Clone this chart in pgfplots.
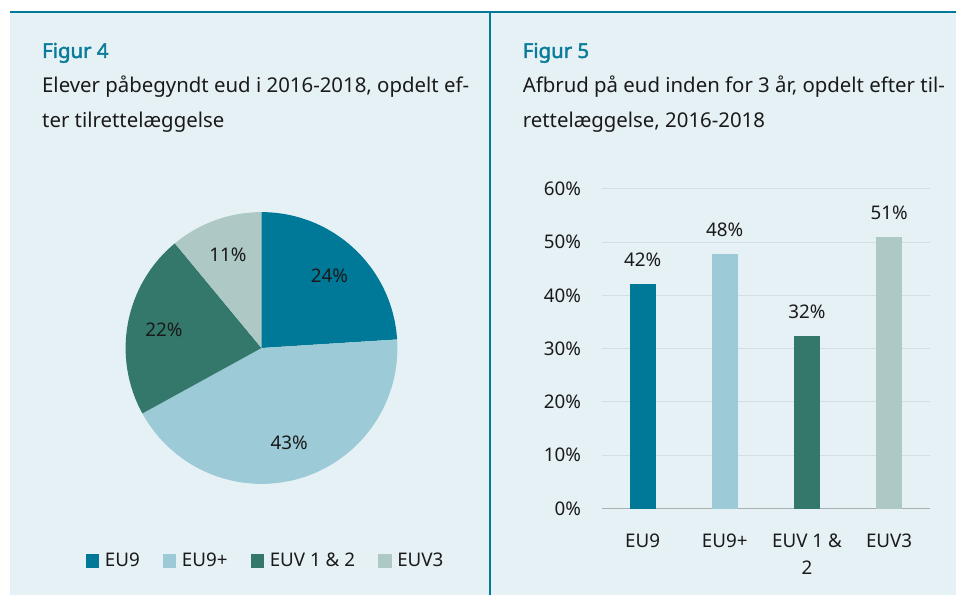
\documentclass[border=0pt]{standalone}
\usepackage{fontspec}
\setmainfont{Noto Sans}[AutoFakeBold=2.2]
\usepackage{pgfplots}
\usepackage{pgfplotstable}
\pgfplotsset{compat=1.18}

\definecolor{bg}{HTML}{E6F1F6}
\definecolor{titlec}{HTML}{0A7C9A}
\definecolor{cEUnine}{HTML}{007898}
\definecolor{cEUnineplus}{HTML}{9CCAD6}
\definecolor{cEUV}{HTML}{33786B}
\definecolor{cEUVthree}{HTML}{ADC8C5}
\definecolor{gridc}{HTML}{D5DEE2}
\definecolor{basec}{HTML}{A9B0B3}
\definecolor{txt}{HTML}{1A1A1A}

\newcommand{\bigfont}{\fontsize{20.4}{24}\selectfont}
\newcommand{\smallfont}{\fontsize{18.8}{27}\selectfont}

% pie: share of pupils, in %
\pgfplotstableread{
label pct col
EU9   24  cEUnine
EU9+  43  cEUnineplus
EUV12 22  cEUV
EUV3  11  cEUVthree
}\piedata

\begin{document}
\begin{tikzpicture}[x=1pt,y=1pt]
\fill[white] (0,0) rectangle (957,595);
\fill[bg] (10,0) rectangle (957,583);
\draw[cEUnine, line width=1.6pt] (10,583) -- (957,583);
\draw[cEUnine, line width=2pt] (490,0) -- (490,583);

\node[anchor=base west, inner sep=0, font=\bigfont\bfseries, text=titlec] at (42,537) {Figur 4};
\node[anchor=base west, inner sep=0, font=\bigfont, text=txt] at (42,502) {Elever påbegyndt eud i 2016-2018, opdelt ef-};
\node[anchor=base west, inner sep=0, font=\bigfont, text=txt] at (42,467) {ter tilrettelæggelse};
\node[anchor=base west, inner sep=0, font=\bigfont\bfseries, text=titlec] at (523,537) {Figur 5};
\node[anchor=base west, inner sep=0, font=\bigfont, text=txt] at (523,502) {Afbrud på eud inden for 3 år, opdelt efter til-};
\node[anchor=base west, inner sep=0, font=\bigfont, text=txt] at (523,467) {rettelæggelse, 2016-2018};

% Figur 4: pie
\begin{axis}[at={(261.7pt,246.7pt)}, anchor=center, x=136pt, y=136pt,
  xmin=-1, xmax=1, ymin=-1, ymax=1, hide axis, clip=false,
  legend columns=4,
  legend style={at={(axis cs:0.03,-1.564)}, anchor=center, draw=none, fill=none,
    font=\smallfont, text=txt,
    /tikz/every even column/.append style={column sep=21pt}},
  legend image code/.code={\fill[#1] (0pt,-6.3pt) rectangle (12.7pt,6.3pt);
    \path[draw=none, fill=none] (0pt,0pt) rectangle (17pt,0.1pt);}]
\addlegendimage{cEUnine}\addlegendentry{EU9}
\addlegendimage{cEUnineplus}\addlegendentry{EU9+}
\addlegendimage{cEUV}\addlegendentry{EUV 1 \& 2}
\addlegendimage{cEUVthree}\addlegendentry{EUV3}
\pgfplotsextra{
  \gdef\angstart{90}
  \foreach \i in {0,...,3} {
    \pgfplotstablegetelem{\i}{pct}\of\piedata \let\p\pgfplotsretval
    \pgfplotstablegetelem{\i}{col}\of\piedata \let\c\pgfplotsretval
    \pgfmathsetmacro\angend{\angstart-3.6*\p}
    \pgfmathsetmacro\angmid{(\angstart+\angend)/2}
    \fill[\c] (axis cs:0,0) -- (axis cs:{cos(\angstart)},{sin(\angstart)})
      arc[start angle=\angstart, end angle=\angend, radius=136pt] -- cycle;
    \node[font=\smallfont, text=txt] at (axis cs:{0.73*cos(\angmid)},{0.73*sin(\angmid)})
      {\p\%};
    \global\let\angstart\angend
  }
}
\end{axis}

% Figur 5: bars
\begin{axis}[at={(602pt,86pt)}, anchor=south west, scale only axis,
  width=329pt, height=320pt, xmin=-0.5, xmax=3.5, ymin=0, ymax=60,
  ytick={0,10,...,60}, yticklabel={\pgfmathprintnumber{\tick}\%},
  xtick={0,1,2,3}, xticklabels={EU9, EU9+, {EUV 1 \&\\2}, EUV3},
  /pgf/number format/assume math mode=true,
  tick label style={font=\smallfont, text=txt},
  xticklabel style={align=center, yshift=-22pt},
  yticklabel style={xshift=-17pt},
  major tick length=0pt, axis line style={draw=none},
  ymajorgrids, grid style={gridc, line width=1pt},
  extra y ticks={0}, extra y tick labels={},
  extra y tick style={grid style={basec, line width=1.4pt}},
  ybar, bar width=26pt, bar shift=0pt,
  nodes near coords={\pgfmathprintnumber[fixed,precision=0]{\pgfplotspointmeta}\%},
  nodes near coords style={font=\smallfont, text=txt, anchor=base, yshift=17pt, inner sep=0pt},
  clip=false]
\addplot[fill=cEUnine, draw=none] coordinates {(0,42.2)};
\addplot[fill=cEUnineplus, draw=none] coordinates {(1,47.8)};
\addplot[fill=cEUV, draw=none] coordinates {(2,32.4)};
\addplot[fill=cEUVthree, draw=none] coordinates {(3,51.0)};
\end{axis}
\end{tikzpicture}
\end{document}
